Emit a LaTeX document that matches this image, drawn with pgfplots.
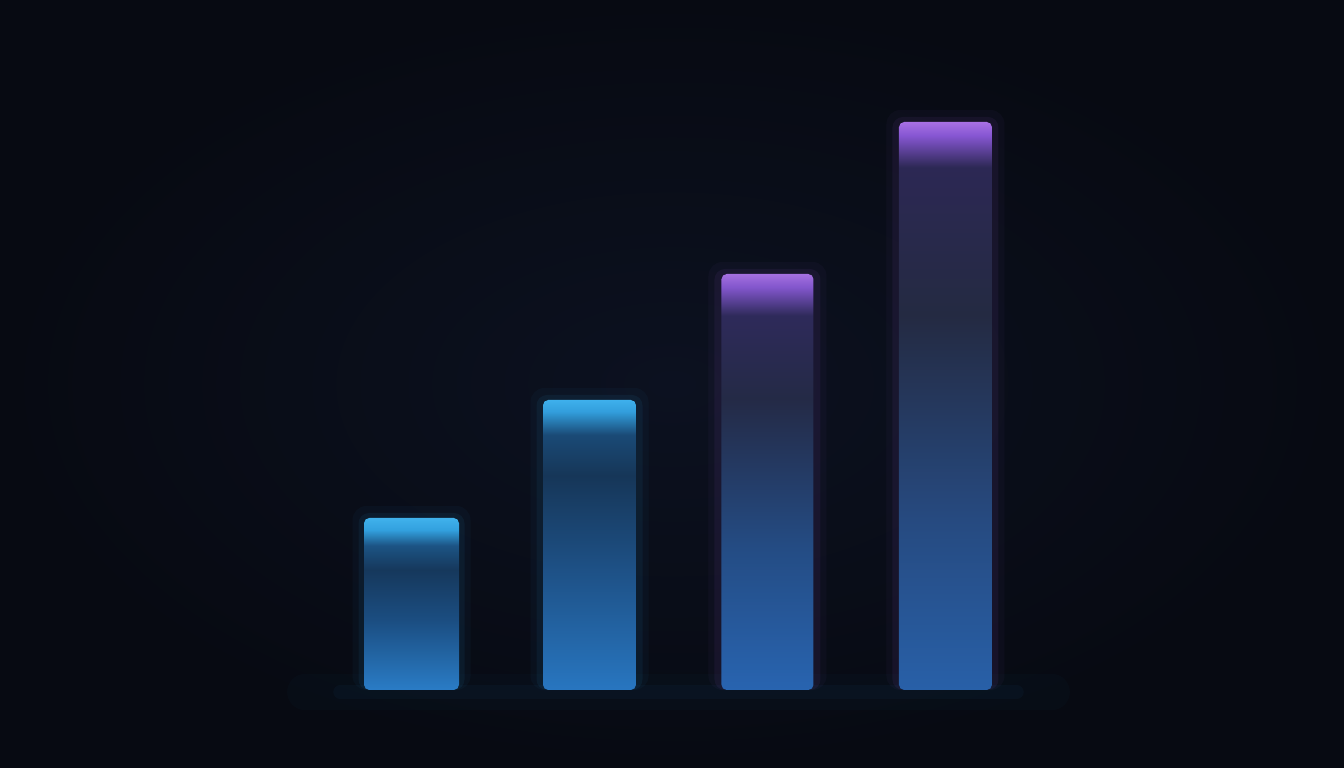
\documentclass[border=0pt]{standalone}
\usepackage{pgfplots}
\pgfplotsset{compat=1.18}

% background and glow colours
\definecolor{bgin}{HTML}{0C1120}
\definecolor{bgout}{HTML}{070A12}
\definecolor{glowblue}{HTML}{2FA4E6}
\definecolor{glowviolet}{HTML}{A060E0}

% per-bar vertical shadings (25bp = bar bottom, 75bp = bar top)
\pgfdeclareverticalshading{barA}{100bp}{%
  color(0bp)=(rgb,255:red,42;green,124;blue,198); color(25bp)=(rgb,255:red,42;green,124;blue,198);
  color(45bp)=(rgb,255:red,27;green,78;blue,130); color(60bp)=(rgb,255:red,22;green,56;blue,92);
  color(67bp)=(rgb,255:red,28;green,84;blue,132); color(71.5bp)=(rgb,255:red,50;green,160;blue,222);
  color(75bp)=(rgb,255:red,64;green,178;blue,236); color(100bp)=(rgb,255:red,64;green,178;blue,236)}
\pgfdeclareverticalshading{barB}{100bp}{%
  color(0bp)=(rgb,255:red,40;green,118;blue,192); color(25bp)=(rgb,255:red,40;green,118;blue,192);
  color(45bp)=(rgb,255:red,30;green,82;blue,136); color(62bp)=(rgb,255:red,22;green,54;blue,88);
  color(69bp)=(rgb,255:red,26;green,74;blue,118); color(73bp)=(rgb,255:red,50;green,158;blue,220);
  color(75bp)=(rgb,255:red,62;green,176;blue,236); color(100bp)=(rgb,255:red,62;green,176;blue,236)}
\pgfdeclareverticalshading{barC}{100bp}{%
  color(0bp)=(rgb,255:red,40;green,100;blue,176); color(25bp)=(rgb,255:red,40;green,100;blue,176);
  color(42bp)=(rgb,255:red,36;green,76;blue,132); color(60bp)=(rgb,255:red,36;green,42;blue,70);
  color(70bp)=(rgb,255:red,46;green,42;blue,90); color(73.4bp)=(rgb,255:red,130;green,86;blue,204);
  color(75bp)=(rgb,255:red,164;green,112;blue,224); color(100bp)=(rgb,255:red,164;green,112;blue,224)}
\pgfdeclareverticalshading{barD}{100bp}{%
  color(0bp)=(rgb,255:red,40;green,96;blue,168); color(25bp)=(rgb,255:red,40;green,96;blue,168);
  color(40bp)=(rgb,255:red,38;green,74;blue,128); color(58bp)=(rgb,255:red,36;green,42;blue,66);
  color(71bp)=(rgb,255:red,44;green,40;blue,84); color(73.8bp)=(rgb,255:red,134;green,86;blue,210);
  color(75bp)=(rgb,255:red,168;green,112;blue,228); color(100bp)=(rgb,255:red,168;green,112;blue,228)}

\begin{document}
\begin{tikzpicture}
  \shade[inner color=bgin, outer color=bgout] (0,0) rectangle (13.44cm,7.68cm);
  \begin{axis}[
      at={(0,0)}, anchor=south west,
      scale only axis,
      width=13.44cm, height=7.68cm,
      xmin=-2.312, xmax=5.239,
      ymin=-78, ymax=690,
      axis lines=none, ticks=none,
      clip=false,
      ybar, bar shift=0pt,
    ]

    % floor glow
    \addplot[sharp plot, draw=glowblue, line width=10pt, line cap=round, opacity=0.025] coordinates {(-0.6,-2) (3.6,-2)};
    \addplot[sharp plot, draw=glowblue, line width=4pt, line cap=round, opacity=0.04] coordinates {(-0.4,-2) (3.4,-2)};

    % halos round the bars
    \addplot[bar width=1.18cm, fill=glowblue, draw=none, opacity=0.04, rounded corners=4pt] coordinates {(0,184) (1,302)};
    \addplot[bar width=1.06cm, fill=glowblue, draw=none, opacity=0.07, rounded corners=3pt] coordinates {(0,177) (1,295)};
    \addplot[bar width=1.18cm, fill=glowviolet, draw=none, opacity=0.04, rounded corners=4pt] coordinates {(2,428) (3,580)};
    \addplot[bar width=1.06cm, fill=glowviolet, draw=none, opacity=0.07, rounded corners=3pt] coordinates {(2,421) (3,573)};

    % bars
    \addplot[bar width=0.95cm, shading=barA, draw=none, rounded corners=1.5pt] coordinates {(0,172)};
    \addplot[bar width=0.93cm, shading=barB, draw=none, rounded corners=1.5pt] coordinates {(1,290)};
    \addplot[bar width=0.92cm, shading=barC, draw=none, rounded corners=1.5pt] coordinates {(2,416)};
    \addplot[bar width=0.93cm, shading=barD, draw=none, rounded corners=1.5pt] coordinates {(3,568)};
  \end{axis}
\end{tikzpicture}
\end{document}
